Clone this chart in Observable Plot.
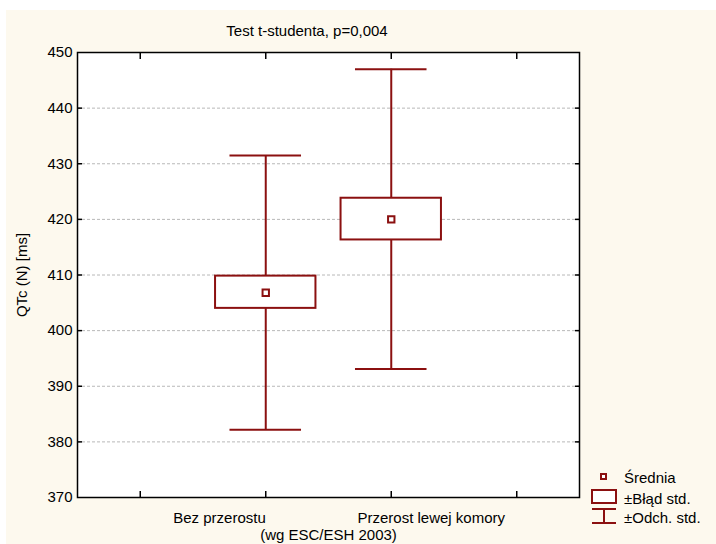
<!DOCTYPE html>
<html>
<head>
<meta charset="utf-8">
<script src="https://cdn.jsdelivr.net/npm/d3@7"></script>
<script src="https://cdn.jsdelivr.net/npm/@observablehq/plot@0.6"></script>
<style>
  html, body { margin: 0; padding: 0; background: #ffffff; }
  #wrap { position: relative; width: 716px; height: 544px; overflow: hidden; background: #ffffff; }
  #bg { position: absolute; left: 6px; top: 10px; width: 710px; height: 534px; background: #fdf9ee; }
  #chart { position: absolute; left: 0; top: 0; }
  #title { position: absolute; left: 307px; top: 22px; transform: translateX(-50%); font: 15px "Liberation Sans", Arial, sans-serif; color: #000; white-space: nowrap; }
  #legend { position: absolute; left: 585px; top: 466px; }
  svg text { font-family: "Liberation Sans", Arial, sans-serif; }
</style>
</head>
<body>
<div id="wrap">
  <div id="bg"></div>
  <div id="chart"></div>
  <div id="title"></div>
  <div id="legend"></div>
</div>
<script>
// ---- data ----
const titleText = "Test t-studenta, p=0,004";
const categories = ["Bez przerostu", "Przerost lewej komory"];
const positions = [2, 3];
const means = [406.8, 420.0];
const seLow = [404.0, 416.3];
const seHigh = [409.8, 423.8];
const sdLow = [382.2, 393.1];
const sdHigh = [431.5, 447.0];
const yTicks = [370, 380, 390, 400, 410, 420, 430, 440, 450];
const xTicks = [1, 2, 3, 4];
const yLabel = "QTc (N) [ms]";
const xLabel = "(wg ESC/ESH 2003)";
const legendLabels = ["Średnia", "±Błąd std.", "±Odch. std."];

const color = "#8b1010";
const boxHalf = 0.4;
const capHalf = 0.285;

const rows = categories.map((c, i) => ({
  cat: c, pos: positions[i], mean: means[i],
  seLo: seLow[i], seHi: seHigh[i], sdLo: sdLow[i], sdHi: sdHigh[i]
}));

document.getElementById("title").textContent = titleText;

const chart = Plot.plot({
  width: 716,
  height: 544,
  marginLeft: 77,
  marginRight: 137,
  marginTop: 52,
  marginBottom: 47,
  style: { background: "transparent", fontSize: "15px", fontFamily: "'Liberation Sans', Arial, sans-serif", color: "#000" },
  x: { domain: [0.5, 4.5] },
  y: { domain: [370, 450] },
  marks: [
    Plot.frame({ fill: "white", stroke: "none" }),
    Plot.gridY(yTicks.slice(1, -1), { stroke: "#b8b8b8", strokeOpacity: 1, strokeDasharray: "3,2", strokeWidth: 1 }),
    // whiskers (± SD)
    Plot.ruleX(rows, { x: "pos", y1: "sdLo", y2: "sdHi", stroke: color, strokeWidth: 2 }),
    Plot.ruleY(rows, { y: "sdHi", x1: d => d.pos - capHalf, x2: d => d.pos + capHalf, stroke: color, strokeWidth: 2 }),
    Plot.ruleY(rows, { y: "sdLo", x1: d => d.pos - capHalf, x2: d => d.pos + capHalf, stroke: color, strokeWidth: 2 }),
    // boxes (± SE)
    Plot.rect(rows, { x1: d => d.pos - boxHalf, x2: d => d.pos + boxHalf, y1: "seLo", y2: "seHi", fill: "white", stroke: color, strokeWidth: 2 }),
    // mean
    Plot.dot(rows, { x: "pos", y: "mean", symbol: "square", r: 3.6, fill: "white", stroke: color, strokeWidth: 2 }),
    // axes
    Plot.axisY(yTicks, { anchor: "left", tickSize: 0, tickPadding: 5, fontSize: 15, label: yLabel, labelAnchor: "center", labelArrow: "none", labelOffset: 61 }),
    Plot.axisY(yTicks.slice(1, -1), { anchor: "left", tickSize: -5, text: null, label: null, stroke: "#000", strokeWidth: 1.5 }),
    Plot.axisY(yTicks.slice(1, -1), { anchor: "right", tickSize: -5, text: null, label: null, stroke: "#000", strokeWidth: 1.5 }),
    Plot.axisX(xTicks, { anchor: "bottom", tickSize: -6, text: null, label: null, stroke: "#000", strokeWidth: 1.5 }),
    Plot.axisX(xTicks, { anchor: "top", tickSize: -6, text: null, label: null, stroke: "#000", strokeWidth: 1.5 }),
    Plot.axisX([positions[0]], { anchor: "bottom", tickSize: 0, tickPadding: 15, fontSize: 15, tickFormat: () => categories[0], textAnchor: "end", label: xLabel, labelAnchor: "center", labelArrow: "none", labelOffset: 42 }),
    Plot.axisX([positions[1]], { anchor: "bottom", tickSize: 0, tickPadding: 15, fontSize: 15, tickFormat: () => categories[1], dx: 40, label: null }),
    Plot.frame({ stroke: "#000", strokeWidth: 1.5 })
  ]
});
document.getElementById("chart").appendChild(chart);

// ---- legend ----
const L = d3.create("svg").attr("width", 131).attr("height", 70)
  .style("font-family", "'Liberation Sans', Arial, sans-serif").style("font-size", "15px");
L.append("rect").attr("x", 16).attr("y", 8).attr("width", 5).attr("height", 5)
  .attr("fill", "white").attr("stroke", color).attr("stroke-width", 2);
L.append("rect").attr("x", 7).attr("y", 24).attr("width", 24).attr("height", 13)
  .attr("fill", "white").attr("stroke", color).attr("stroke-width", 2);
L.append("line").attr("x1", 7).attr("x2", 31).attr("y1", 43).attr("y2", 43).attr("stroke", color).attr("stroke-width", 2);
L.append("line").attr("x1", 19).attr("x2", 19).attr("y1", 43).attr("y2", 57).attr("stroke", color).attr("stroke-width", 2);
L.append("line").attr("x1", 7).attr("x2", 31).attr("y1", 57).attr("y2", 57).attr("stroke", color).attr("stroke-width", 2);
const ly = [12, 33, 52];
legendLabels.forEach((t, i) => {
  L.append("text").attr("x", 39).attr("y", ly[i]).attr("dy", "0.35em").text(t);
});
document.getElementById("legend").appendChild(L.node());
</script>
</body>
</html>
